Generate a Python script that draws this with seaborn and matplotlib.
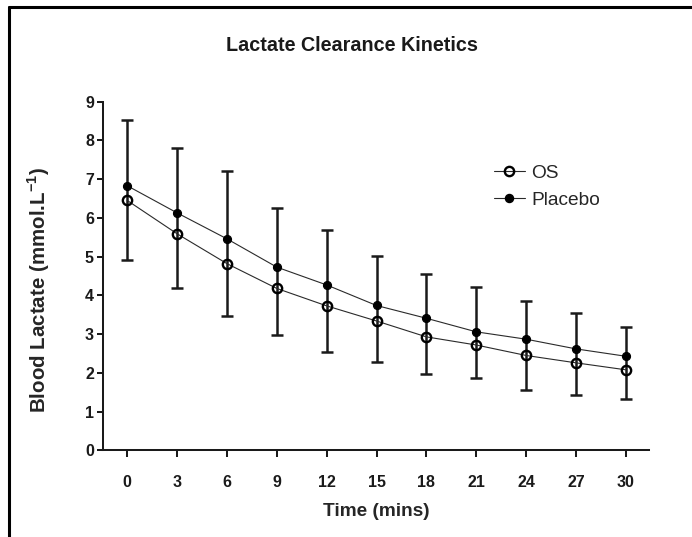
import matplotlib
matplotlib.use("Agg")
import matplotlib.pyplot as plt
import seaborn as sns
import pandas as pd
import numpy as np
from matplotlib.lines import Line2D

time_mins = [0, 3, 6, 9, 12, 15, 18, 21, 24, 27, 30]
os_mean = [6.45, 5.59, 4.82, 4.18, 3.73, 3.34, 2.93, 2.72, 2.45, 2.26, 2.08]
placebo_mean = [6.83, 6.13, 5.46, 4.73, 4.27, 3.74, 3.41, 3.06, 2.87, 2.62, 2.43]
placebo_upper = [8.53, 7.80, 7.21, 6.25, 5.69, 5.02, 4.55, 4.21, 3.86, 3.54, 3.18]
os_lower = [4.91, 4.19, 3.47, 2.99, 2.53, 2.28, 1.97, 1.86, 1.57, 1.44, 1.33]
y_ticks = [0, 1, 2, 3, 4, 5, 6, 7, 8, 9]

sns.set_theme(style="ticks")
plt.rcParams['font.family'] = ['Liberation Sans', 'DejaVu Sans']
plt.rcParams['mathtext.fontset'] = 'custom'
plt.rcParams['mathtext.rm'] = 'Liberation Sans'
plt.rcParams['mathtext.bf'] = 'Liberation Sans:bold'

df = pd.DataFrame({
    "time": time_mins * 2,
    "lactate": os_mean + placebo_mean,
    "group": ["OS"] * len(time_mins) + ["Placebo"] * len(time_mins),
})

fig = plt.figure(figsize=(6.92, 5.37), dpi=100)
fig.patch.set_facecolor("white")
ax = fig.add_axes([0.1484, 0.1613, 0.7895, 0.6493])

t = np.array(time_mins, dtype=float)
pm = np.array(placebo_mean)
ax.errorbar(t, pm, yerr=[pm - np.array(os_lower), np.array(placebo_upper) - pm],
            fmt="none", ecolor="#1a1a1a", elinewidth=1.8, capsize=4.2, capthick=1.8, zorder=2)

os_df = df[df["group"] == "OS"]
pl_df = df[df["group"] == "Placebo"]
sns.lineplot(data=pl_df, x="time", y="lactate", ax=ax, color="#2a2a2a", linewidth=0.8,
             marker="o", markersize=5.8, markerfacecolor="black", markeredgecolor="black",
             markeredgewidth=0.8, zorder=3, legend=False)
sns.lineplot(data=os_df, x="time", y="lactate", ax=ax, color="#2a2a2a", linewidth=0.8,
             marker="o", markersize=6.7, markerfacecolor="none", markeredgecolor="black",
             markeredgewidth=1.7, zorder=4, legend=False)

ax.set_xlim(-1.48, 31.4)
ax.set_ylim(0, 9)
ax.set_xticks(time_mins)
ax.set_yticks(y_ticks)
ax.set_xticklabels([str(v) for v in time_mins], fontweight="bold", fontsize=11.5)
ax.set_yticklabels([str(v) for v in y_ticks], fontweight="bold", fontsize=11.5)
ax.tick_params(axis="x", direction="out", length=5, width=1.45, pad=13, colors="#1a1a1a")
ax.tick_params(axis="y", direction="out", length=4.3, width=1.45, pad=2, colors="#1a1a1a")
for s in ["left", "bottom"]:
    ax.spines[s].set_linewidth(1.45)
    ax.spines[s].set_color("#1a1a1a")
for s in ["top", "right"]:
    ax.spines[s].set_visible(False)

ax.set_xlabel("Time (mins)", fontweight="bold", fontsize=13.7, labelpad=9)
ax.set_ylabel("Blood Lactate (mmol.L$^{\\mathbf{-1}}$)", fontweight="bold", fontsize=14.8)
ax.yaxis.set_label_coords(-0.092, 0.46)

fig.text(0.508, 0.916, "Lactate Clearance Kinetics", ha="center", va="center",
         fontsize=14.2, fontweight="bold", color="#1a1a1a")

handles = [
    Line2D([], [], color="#2a2a2a", lw=0.8, marker="o", markersize=6.7,
           markerfacecolor="none", markeredgecolor="black", markeredgewidth=1.7),
    Line2D([], [], color="#2a2a2a", lw=0.8, marker="o", markersize=5.8,
           markerfacecolor="black", markeredgecolor="black"),
]
fig.legend(handles, ["OS", "Placebo"], loc="center left",
           bbox_to_anchor=(0.689, 0.652), frameon=False, fontsize=13.8,
           handlelength=1.6, handletextpad=0.35, labelspacing=0.5)

fig.add_artist(Line2D([9 / 692, 9 / 692], [0, 1 - 7 / 537], transform=fig.transFigure,
                      color="black", lw=2.2))
fig.add_artist(Line2D([9 / 692, 1], [1 - 7 / 537, 1 - 7 / 537], transform=fig.transFigure,
                      color="black", lw=2.2))

fig.savefig("out.png", dpi=100, facecolor="white")
